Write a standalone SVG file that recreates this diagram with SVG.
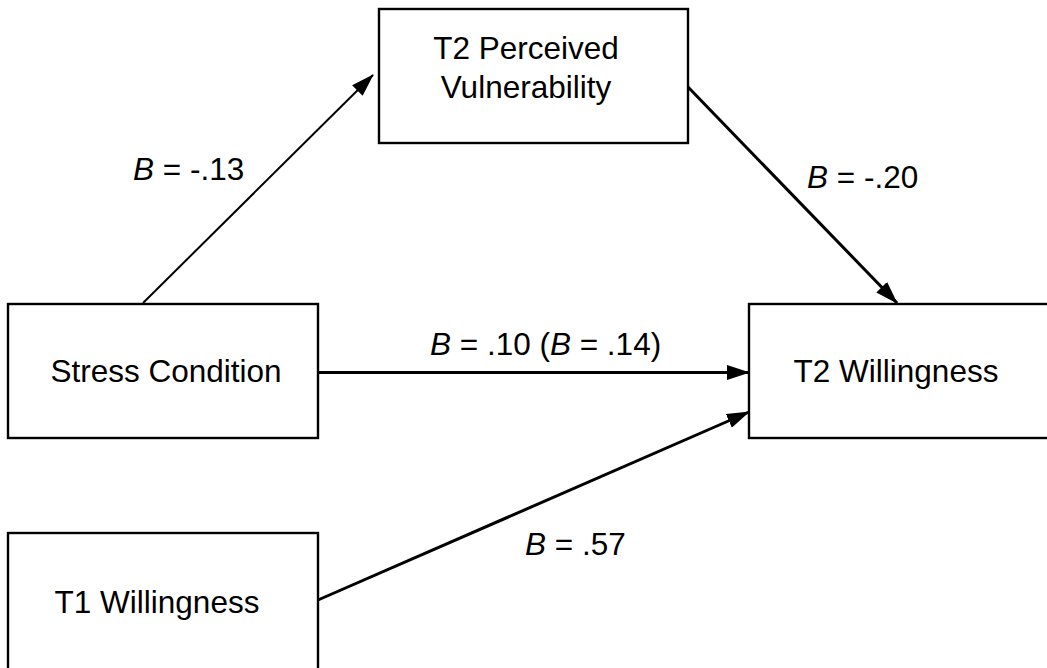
<svg xmlns="http://www.w3.org/2000/svg" width="1047" height="668" viewBox="0 0 1047 668">
  <style>
    .box { fill: #ffffff; stroke: #000000; stroke-width: 2.4; }
    .lbl { font-family: "Liberation Sans", Arial, sans-serif; font-size: 31.5px; fill: #000000; }
    .mid { text-anchor: middle; }
    .conn { stroke: #000000; fill: none; }
    .it { font-style: italic; }
  </style>
  <defs>
    <marker id="arrow" markerUnits="userSpaceOnUse" viewBox="0 0 23 15" markerWidth="23" markerHeight="15" refX="22" refY="7.5" orient="auto">
      <path d="M0,0 L23,7.5 L0,15 z" fill="#000000"/>
    </marker>
  </defs>
  <rect width="1047" height="668" fill="#ffffff"/>

  <g id="connectors">
    <line class="conn" x1="143" y1="303" x2="373" y2="75" stroke-width="2" marker-end="url(#arrow)"/>
    <line class="conn" x1="688" y1="87" x2="897" y2="303" stroke-width="3" marker-end="url(#arrow)"/>
    <line class="conn" x1="318" y1="372.5" x2="749" y2="372.5" stroke-width="3" marker-end="url(#arrow)"/>
    <line class="conn" x1="318" y1="600" x2="749" y2="412" stroke-width="3" marker-end="url(#arrow)"/>
  </g>

  <g id="node-perceived">
    <rect class="box" x="379" y="9" width="309" height="134"/>
    <text class="lbl mid" x="526" y="59">T2 Perceived</text>
    <text class="lbl mid" x="526" y="98">Vulnerability</text>
  </g>
  <g id="node-stress">
    <rect class="box" x="8" y="304" width="310" height="134"/>
    <text class="lbl mid" x="166" y="382">Stress Condition</text>
  </g>
  <g id="node-t2will">
    <rect class="box" x="749" y="304" width="310" height="134"/>
    <text class="lbl mid" x="896" y="382">T2 Willingness</text>
  </g>
  <g id="node-t1will">
    <rect class="box" x="8" y="533" width="310" height="140"/>
    <text class="lbl mid" x="157" y="613">T1 Willingness</text>
  </g>

  <g id="labels">
    <text class="lbl" x="133" y="180"><tspan class="it">B</tspan> = -.13</text>
    <text class="lbl" x="807" y="188"><tspan class="it">B</tspan> = -.20</text>
    <text class="lbl" x="430" y="355"><tspan class="it">B</tspan> = .10 (<tspan class="it">B</tspan> = .14)</text>
    <text class="lbl" x="525" y="555"><tspan class="it">B</tspan> = .57</text>
  </g>
</svg>
